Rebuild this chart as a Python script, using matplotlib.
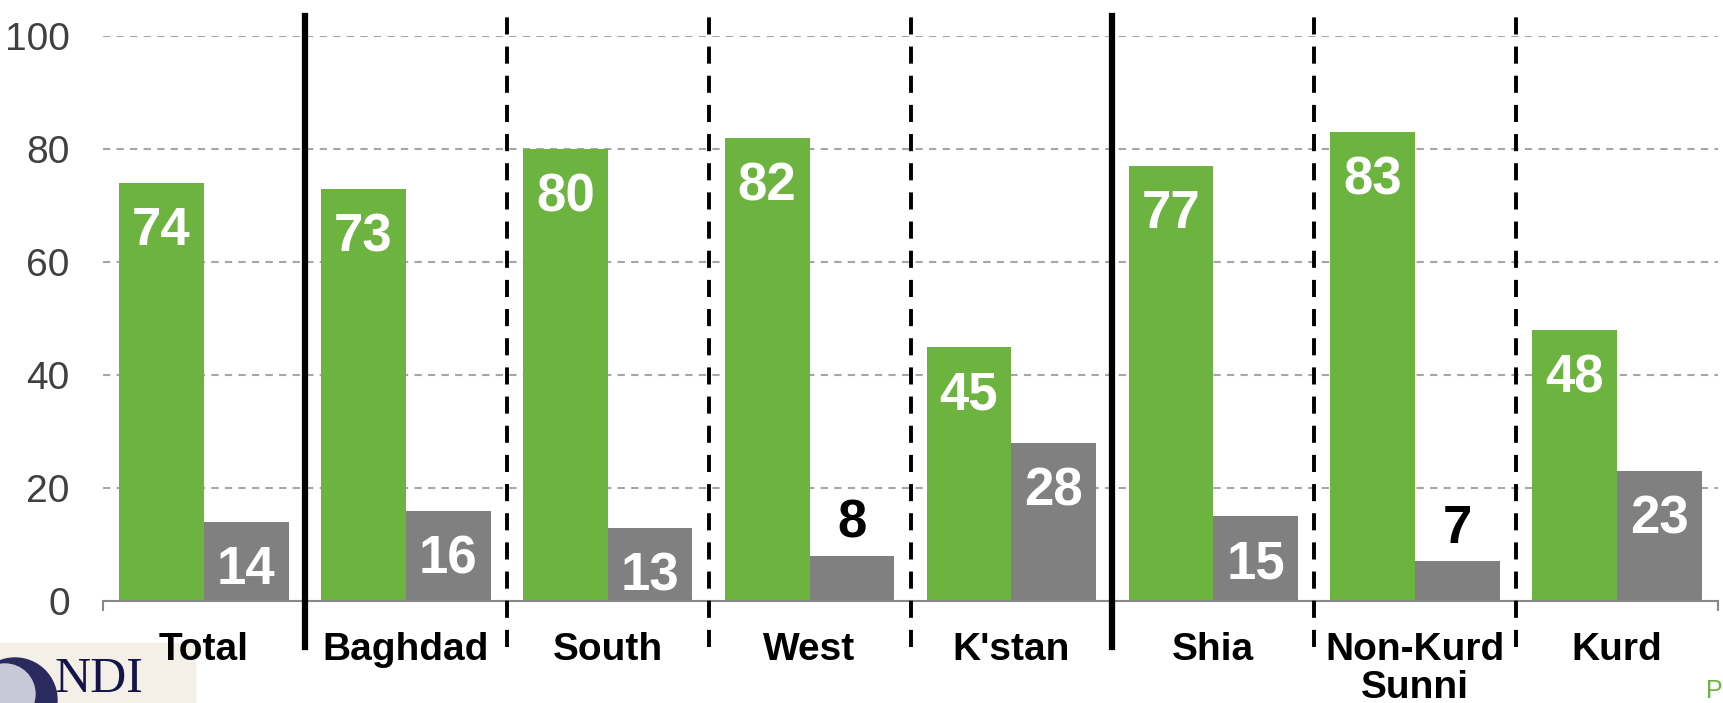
import matplotlib
matplotlib.use("Agg")
import matplotlib.pyplot as plt
from matplotlib.patches import Rectangle, Circle
import numpy as np

categories = ["Total", "Baghdad", "South", "West", "K'stan", "Shia", "Non-Kurd\nSunni", "Kurd"]
green_vals = [74, 73, 80, 82, 45, 77, 83, 48]
gray_vals = [14, 16, 13, 8, 28, 15, 7, 23]
yticks = [0, 20, 40, 60, 80, 100]
solid_seps = [0.5, 4.5]
dashed_seps = [1.5, 2.5, 3.5, 5.5, 6.5]

GREEN = "#6db33f"
GRAY = "#808080"

plt.rcParams["font.family"] = ["Liberation Sans", "DejaVu Sans"]

W, H = 1723, 703
fig = plt.figure(figsize=(W / 100, H / 100), dpi=100)
ax = fig.add_axes([103 / W, 1 - 601 / H, (1718 - 103) / W, (601 - 36) / H])

x = np.arange(len(categories))
bw = 0.42
gb = ax.bar(x - bw / 2, green_vals, bw, color=GREEN, zorder=2)
rb = ax.bar(x + bw / 2, gray_vals, bw, color=GRAY, zorder=2)

# value labels: inside top in white, small ones above in black
for bars, vals in ((gb, green_vals), (rb, gray_vals)):
    for b, v in zip(bars, vals):
        cx = b.get_x() + b.get_width() / 2
        if v >= 10:
            ax.annotate(str(v), (cx, v), xytext=(0, -45), textcoords="offset points",
                        ha="center", va="baseline", color="white", fontsize=38,
                        fontweight="bold", zorder=3)
        else:
            ax.annotate(str(v), (cx, v), xytext=(0, 13), textcoords="offset points",
                        ha="center", va="baseline", color="black", fontsize=38,
                        fontweight="bold", zorder=3)

ax.set_xlim(-0.5, len(categories) - 0.5)
ax.set_ylim(0, 100)
ax.set_yticks(yticks)
ax.set_xticks(x)
ax.set_xticklabels(categories, fontsize=28, fontweight="bold", linespacing=1.1)
ax.set_xticks(np.arange(-0.5, len(categories), 1), minor=True)
ax.tick_params(axis="x", which="major", length=0, pad=22)
ax.tick_params(axis="x", which="minor", length=7, width=1.5, color="#888888")
ax.tick_params(axis="y", length=0, pad=24, labelsize=28, labelcolor="#404040")

for s in ("left", "right", "top"):
    ax.spines[s].set_visible(False)
ax.spines["bottom"].set_color("#888888")
ax.spines["bottom"].set_linewidth(1.5)

ax.yaxis.grid(True, color="#a6a6a6", linestyle=(0, (3.5, 3)), linewidth=1.5)
ax.set_axisbelow(True)

# group separators
for sx in solid_seps:
    ax.plot([sx, sx], [-8.2, 103.5], color="black", lw=4.5, clip_on=False, zorder=4)
for sx in dashed_seps:
    ax.plot([sx, sx], [-8.2, 103.5], color="black", lw=2.8, clip_on=False, zorder=4,
            linestyle=(0, (4.4, 3.1)))

# NDI logo corner (behind the axes)
fig.patches.append(Rectangle((0, 0), 195 / W, 60 / H, transform=fig.transFigure,
                             color="#f4f0e8", zorder=-3))
fig.patches.append(Circle((15 / 100, (H - 700) / 100), 0.42, transform=fig.dpi_scale_trans,
                          color="#2a2a5e", zorder=-2))
fig.patches.append(Circle((5 / 100, (H - 694) / 100), 0.30, transform=fig.dpi_scale_trans,
                          color="#c8c8d8", zorder=-2))
fig.text(54 / W, 0, "NDI", fontsize=36, color="#14144a", family="Liberation Serif",
         ha="left", va="bottom", zorder=-1)
fig.text(1706 / W, 5 / H, "P", fontsize=18, color=GREEN, ha="left", va="baseline")

fig.savefig("out.png", dpi=100)
